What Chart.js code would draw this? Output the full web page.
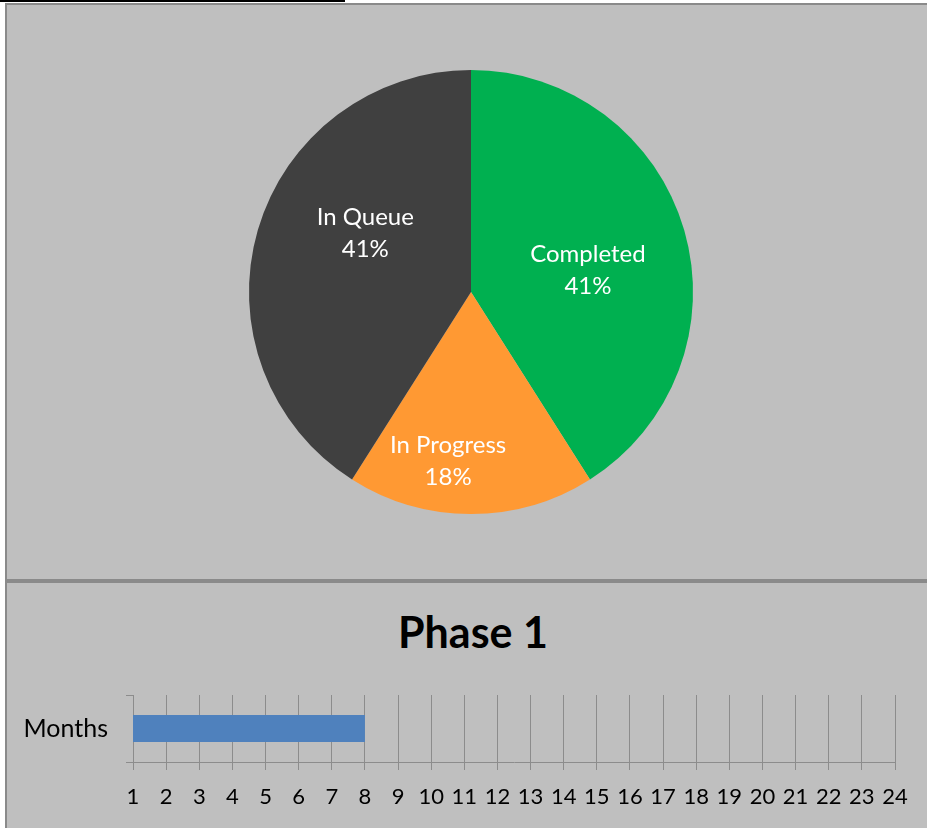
<!DOCTYPE html>
<html>
<head>
<meta charset="utf-8">
<script src="https://cdn.jsdelivr.net/npm/chart.js@4.4.0/dist/chart.umd.min.js"></script>
<style>
  body { margin: 0; background: #fff; width: 927px; height: 828px; overflow: hidden; position: relative; font-family: Lato, sans-serif; }
  #topline { position: absolute; left: 0; top: 0; width: 345px; height: 2px; background: #000; }
  .panel { position: absolute; left: 5px; width: 940px; background: #bfbfbf; border: 2px solid #8a8a8a; }
  #p1 { top: 3px; height: 574px; }
  #p2 { top: 581px; height: 260px; }
  #title { position: absolute; left: 0; width: 932px; top: 23px; text-align: center; font: bold 43px Lato, sans-serif; color: #000; }
  #pieWrap { position: absolute; left: 0; top: 0; width: 920px; height: 574px; }
  #barWrap { position: absolute; left: 0; top: 87px; width: 920px; height: 158px; }
</style>
</head>
<body>
<div id="topline"></div>
<div class="panel" id="p1"><div id="pieWrap"><canvas id="pie"></canvas></div></div>
<div class="panel" id="p2">
  <div id="title">Phase 1</div>
  <div id="barWrap"><canvas id="bar"></canvas></div>
</div>
<script>
'use strict';
// pie data
let statusLabels = ['Completed', 'In Progress', 'In Queue'];
let statusValues = [41, 18, 41];
let statusColors = ['#00b050', '#ff9933', '#404040'];

// timeline data
let phaseCategories = ['Months'];
let phaseStart = [1];
let phaseEnd = [8];
let monthMin = 1;
let monthMax = 24;

// draws "name\nxx%" inside each slice
let sliceLabels = {
  id: 'sliceLabels',
  afterDatasetsDraw(chart, args, opts) {
    let ctx = chart.ctx;
    let meta = chart.getDatasetMeta(0);
    let data = chart.data.datasets[0].data;
    let total = data.reduce((a, b) => a + b, 0);
    ctx.save();
    ctx.fillStyle = '#fff';
    ctx.font = opts.font;
    ctx.textAlign = 'center';
    ctx.textBaseline = 'middle';
    meta.data.forEach((arc, i) => {
      let p = opts.place[i];
      let mid = (arc.startAngle + arc.endAngle) / 2 + p.da * Math.PI / 180;
      let r = arc.outerRadius * p.r;
      let x = arc.x + Math.cos(mid) * r;
      let y = arc.y + Math.sin(mid) * r;
      let pct = Math.round(data[i] / total * 100) + '%';
      ctx.fillText(chart.data.labels[i], x, y - opts.lineGap / 2);
      ctx.fillText(pct, x, y + opts.lineGap / 2);
    });
    ctx.restore();
  }
};

new Chart(document.getElementById('pie'), {
  type: 'pie',
  data: {
    labels: statusLabels,
    datasets: [{
      data: statusValues,
      backgroundColor: statusColors,
      borderWidth: 0
    }]
  },
  options: {
    responsive: true,
    maintainAspectRatio: false,
    animation: false,
    layout: { padding: { top: 65, bottom: 65, left: 8, right: 0 } },
    plugins: {
      legend: { display: false },
      tooltip: { enabled: false },
      sliceLabels: {
        font: '24px Lato, sans-serif',
        lineGap: 32,
        place: [{ r: 0.536, da: 5.6 }, { r: 0.77, da: 7.7 }, { r: 0.545, da: 12.9 }]
      }
    }
  },
  plugins: [sliceLabels]
});

let gridGray = '#8c8c8c';
new Chart(document.getElementById('bar'), {
  type: 'bar',
  data: {
    labels: phaseCategories,
    datasets: [{
      data: phaseStart.map((s, i) => [s, phaseEnd[i]]),
      backgroundColor: '#4f81bd',
      borderSkipped: false,
      barPercentage: 0.4,
      categoryPercentage: 1
    }]
  },
  options: {
    indexAxis: 'y',
    responsive: true,
    maintainAspectRatio: false,
    animation: false,
    layout: { padding: { top: 25, right: 32, left: 0, bottom: 0 } },
    plugins: { legend: { display: false }, tooltip: { enabled: false } },
    scales: {
      x: {
        min: monthMin,
        max: monthMax,
        ticks: { stepSize: 1, autoSkip: false, maxRotation: 0, color: '#000', font: { family: 'Lato', size: 22 }, padding: 14 },
        grid: { color: gridGray, tickLength: 8, lineWidth: 1 },
        border: { color: gridGray },
        afterFit(s) { s.height = 66; }
      },
      y: {
        ticks: { color: '#000', font: { family: 'Lato', size: 25 }, padding: 18 },
        grid: { drawOnChartArea: false, color: gridGray, tickLength: 7 },
        border: { color: gridGray },
        afterFit(s) { s.width = 126; s.paddingTop = 0; s.paddingBottom = 0; }
      }
    }
  }
});
</script>
</body>
</html>
